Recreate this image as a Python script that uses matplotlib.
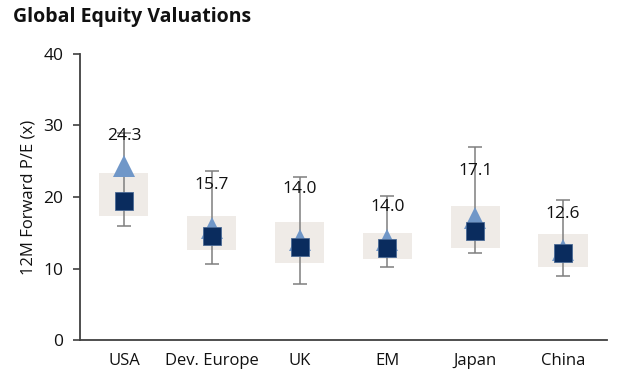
import numpy as np
import matplotlib.pyplot as plt

plt.rcParams['font.family'] = ['Open Sans', 'DejaVu Sans']

regions  = ['USA', 'Dev. Europe', 'UK', 'EM', 'Japan', 'China']
hi       = [29.0, 23.7, 22.8, 20.1, 27.0, 19.6]   # whisker top
lo       = [16.0, 10.6, 7.9, 10.2, 12.2, 8.9]     # whisker bottom
box_top  = [23.3, 17.4, 16.5, 14.9, 18.8, 14.8]
box_bot  = [17.4, 12.6, 10.8, 11.3, 12.9, 10.2]
median   = [19.4, 14.5, 13.0, 12.9, 15.2, 12.1]
current  = [24.3, 15.7, 14.0, 14.0, 17.1, 12.6]

# label offset above the current value (pts)
lab_off = [22, 31, 37, 24, 34, 26]

x = np.arange(len(regions))

fig = plt.figure(figsize=(6.2, 3.87), dpi=100)
ax = fig.add_axes([0.129, 0.1214, 0.850, 0.7391])

box_w = 0.56
ax.bar(x, np.array(box_top) - np.array(box_bot), bottom=box_bot, width=box_w,
       color='#EFEBE7', zorder=1)
ax.errorbar(x, median, yerr=[np.array(median) - np.array(lo), np.array(hi) - np.array(median)],
            fmt='none', ecolor='#7F7F7F', elinewidth=1.1, capsize=5, capthick=1.1, zorder=2)
ax.plot(x, current, '^', color='#7097C8', markersize=16, markeredgewidth=0, zorder=3)
ax.plot(x, median, 's', color='#0A2C5E', markersize=13.5, markeredgecolor='#4A6A96',
        markeredgewidth=0.6, zorder=4)

for i in range(len(x)):
    ax.annotate('%.1f' % current[i], (x[i], current[i]), xytext=(0, lab_off[i]),
                textcoords='offset points', ha='center', va='center',
                fontsize=12.5, color='#111111', zorder=5)

ax.set_xlim(-0.5, len(regions) - 0.5)
ax.set_ylim(0, 40)
ax.set_yticks([0, 10, 20, 30, 40])
ax.set_xticks(x)
ax.set_xticklabels(regions, fontsize=12, color='#111111')
ax.tick_params(axis='x', length=0, pad=9)
ax.tick_params(axis='y', labelsize=12.5, length=5, width=1.2, color='#404040', labelcolor='#111111', pad=7)
ax.set_ylabel('12M Forward P/E (x)', fontsize=12, color='#111111', labelpad=5)

for s in ['top', 'right']:
    ax.spines[s].set_visible(False)
for s in ['left', 'bottom']:
    ax.spines[s].set_color('#404040')
    ax.spines[s].set_linewidth(1.3)

fig.text(0.021, 0.955, 'Global Equity Valuations', fontsize=14, fontweight='bold',
         color='#111111', va='center', ha='left')

fig.savefig('out.png', dpi=100)
